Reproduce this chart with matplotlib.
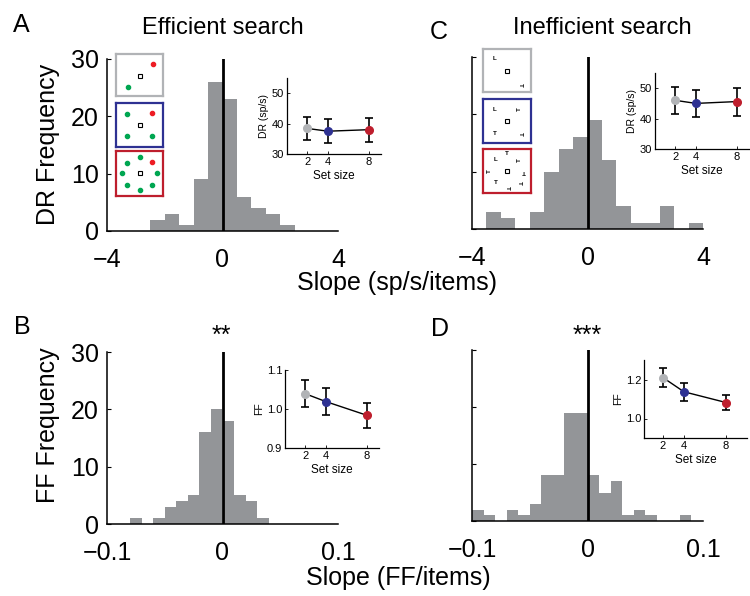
import matplotlib
matplotlib.use("Agg")
from matplotlib import pyplot as plt

plt.rcParams["font.family"] = ["Liberation Sans", "DejaVu Sans"]

# Histogram data (left bin edge, count)
dr_eff_edges = [-2.5, -2.0, -1.5, -1.0, -0.5, 0.0, 0.5, 1.0, 1.5, 2.0]
dr_eff_counts = [2, 3, 1, 9, 26, 23, 6, 4, 3, 1]

dr_ineff_edges = [-3.5, -3.0, -2.5, -2.0, -1.5, -1.0, -0.5, 0.0, 0.5, 1.0,
                  1.5, 2.0, 2.5, 3.0, 3.5]
dr_ineff_counts = [3, 2, 0, 3, 10, 14, 16, 19, 12, 4, 1, 1, 4, 0, 1]

ff_eff_edges = [-0.08, -0.07, -0.06, -0.05, -0.04, -0.03, -0.02, -0.01,
                0.0, 0.01, 0.02, 0.03]
ff_eff_counts = [1, 0, 1, 3, 4, 5, 16, 20, 18, 5, 4, 1]

ff_ineff_edges = [-0.10, -0.09, -0.08, -0.07, -0.06, -0.05, -0.04, -0.03,
                  -0.02, -0.01, 0.0, 0.01, 0.02, 0.03, 0.04, 0.05, 0.06,
                  0.07, 0.08]
ff_ineff_counts = [2, 1, 0, 2, 1, 3, 8, 8, 19, 19, 8, 5, 7, 1, 2, 1, 0, 0, 1]

# Inset data (mean +- error per set size)
set_sizes = [2, 4, 8]
dr_eff_mean = [38.4, 37.5, 38.0]
dr_eff_err = [3.8, 4.0, 4.0]
dr_ineff_mean = [46.0, 45.0, 45.6]
dr_ineff_err = [4.5, 4.5, 4.6]
ff_eff_mean = [1.039, 1.019, 0.984]
ff_eff_err = [0.035, 0.035, 0.032]
ff_ineff_mean = [1.21, 1.137, 1.082]
ff_ineff_err = [0.048, 0.045, 0.038]

# Search display icons (relative positions in the box)
eff_icons = [
    [(0.5, 0.52, "fix"), (0.78, 0.23, "red"), (0.25, 0.78, "green")],
    [(0.5, 0.5, "fix"), (0.77, 0.23, "red"), (0.23, 0.26, "green"),
     (0.23, 0.75, "green"), (0.76, 0.75, "green")],
    [(0.5, 0.5, "fix"), (0.5, 0.13, "green"), (0.77, 0.25, "red"),
     (0.23, 0.27, "green"), (0.12, 0.5, "green"), (0.88, 0.5, "green"),
     (0.23, 0.75, "green"), (0.76, 0.75, "green"), (0.5, 0.87, "green")],
]
ineff_icons = [
    [(0.5, 0.52, "fix", 0), (0.24, 0.23, "L", 0), (0.78, 0.83, "T", -90)],
    [(0.5, 0.5, "fix", 0), (0.24, 0.24, "L", 0), (0.76, 0.24, "T", 90),
     (0.24, 0.79, "T", 0), (0.78, 0.79, "T", -90)],
    [(0.5, 0.5, "fix", 0), (0.5, 0.1, "T", 0), (0.26, 0.24, "L", 0),
     (0.75, 0.26, "T", 90), (0.14, 0.5, "T", 90), (0.86, 0.5, "T", 180),
     (0.26, 0.76, "T", 0), (0.75, 0.76, "T", -90), (0.51, 0.89, "T", -90)],
]

BAR = "#939598"
SET_COLORS = ["#b1b3b6", "#2e3192", "#be1e2d"]
DOT_COLORS = {"red": "#ed1c24", "green": "#00a651"}

W, H = 750, 596
fig = plt.figure(figsize=(7.5, 5.96), dpi=100)


def rect(left, top, right, bottom):
    return [left / W, (H - bottom) / H, (right - left) / W, (bottom - top) / H]


def draw_hist(box, edges, counts, width, xlim, xlabels, ylabels):
    ax = fig.add_axes(rect(*box))
    ax.bar(edges, counts, width=width, align="edge", color=BAR, edgecolor="none")
    ax.axvline(0, color="black", lw=2.0, zorder=3)
    ax.set_xlim(xlim)
    ax.set_ylim(0, 30)
    ax.spines["top"].set_visible(False)
    ax.spines["right"].set_visible(False)
    for s in ["left", "bottom"]:
        ax.spines[s].set_linewidth(1.1)
    ax.set_xticks([xlim[0], 0, xlim[1]])
    ax.set_xticklabels(xlabels, fontsize=18)
    ax.set_yticks([0, 10, 20, 30])
    if ylabels:
        ax.set_yticklabels(["0", "10", "20", "30"], fontsize=18)
    else:
        ax.set_yticklabels([])
    ax.tick_params(axis="y", direction="in", length=3, width=0.8, pad=6)
    ax.tick_params(axis="x", direction="in", length=0, pad=12)
    return ax


def draw_inset(box, means, errs, ylim, yticks, ylabels, ylabel, xlim):
    ax = fig.add_axes(rect(*box))
    ax.errorbar(set_sizes, means, yerr=errs, color="black", lw=1.0,
                capsize=3.2, capthick=1.2, elinewidth=1.2, zorder=2)
    for x, m, c in zip(set_sizes, means, SET_COLORS):
        ax.plot(x, m, "o", color=c, markersize=5.5, zorder=3)
    ax.set_xlim(xlim)
    ax.set_ylim(ylim)
    ax.set_xticks(set_sizes)
    ax.set_xticklabels([str(s) for s in set_sizes], fontsize=8)
    ax.set_yticks(yticks)
    ax.set_yticklabels(ylabels, fontsize=8)
    ax.tick_params(direction="in", length=2, width=0.6, pad=2)
    ax.spines["top"].set_visible(False)
    ax.spines["right"].set_visible(False)
    for s in ["left", "bottom"]:
        ax.spines[s].set_linewidth(0.9)
    ax.set_xlabel("Set size", fontsize=8.5, labelpad=2)
    ax.set_ylabel(ylabel, fontsize=7.5, labelpad=2)
    return ax


def draw_icon(box, items, color, letters):
    ax = fig.add_axes(rect(*box))
    ax.set_xlim(0, 1)
    ax.set_ylim(1, 0)
    ax.set_xticks([])
    ax.set_yticks([])
    for s in ax.spines.values():
        s.set_color(color)
        s.set_linewidth(1.6)
    for item in items:
        x, y, kind = item[0], item[1], item[2]
        if kind == "fix":
            ax.plot(x, y, "s", markersize=2.6, markerfacecolor="white",
                    markeredgecolor="black", markeredgewidth=0.8)
        elif letters:
            ax.text(x, y, kind, rotation=item[3], fontsize=4.5,
                    fontweight="bold", ha="center", va="center")
        else:
            ax.plot(x, y, "o", color=DOT_COLORS[kind], markersize=3.0)


# Histograms
axA = draw_hist((107, 59, 338, 231), dr_eff_edges, dr_eff_counts, 0.5,
                (-4, 4), ["\u22124", "0", "4"], True)
axC = draw_hist((472, 57, 703, 229), dr_ineff_edges, dr_ineff_counts, 0.5,
                (-4, 4), ["\u22124", "0", "4"], False)
axB = draw_hist((107, 352, 338, 524), ff_eff_edges, ff_eff_counts, 0.01,
                (-0.1, 0.1), ["\u22120.1", "0", "0.1"], True)
axD = draw_hist((472, 350, 703, 521), ff_ineff_edges, ff_ineff_counts, 0.01,
                (-0.1, 0.1), ["\u22120.1", "0", "0.1"], False)

# Insets
draw_inset((287, 78, 381, 154), dr_eff_mean, dr_eff_err, (30, 55),
           [30, 40, 50], ["30", "40", "50"], "DR (sp/s)", (0, 9.2))
draw_inset((655, 73, 749, 149), dr_ineff_mean, dr_ineff_err, (30, 55),
           [30, 40, 50], ["30", "40", "50"], "DR (sp/s)", (0, 9.2))
draw_inset((285, 370, 379, 448), ff_eff_mean, ff_eff_err, (0.9, 1.1),
           [0.9, 1.0, 1.1], ["0.9", "1.0", "1.1"], "FF", (0, 9.2))
draw_inset((644, 360, 747, 438), ff_ineff_mean, ff_ineff_err, (0.9, 1.3),
           [1.0, 1.2], ["1.0", "1.2"], "FF", (0.2, 10))

# Icons
for (top, bottom), items, col in zip([(54, 96), (103, 147), (151, 196)],
                                     eff_icons, SET_COLORS):
    draw_icon((116, top, 163, bottom), items, col, False)
for (top, bottom), items, col in zip([(49, 92), (99, 143), (149, 193)],
                                     ineff_icons, SET_COLORS):
    draw_icon((483, top, 531, bottom), items, col, True)

# Labels
def ftext(x, y, s, **kw):
    fig.text(x / W, 1 - y / H, s, ha="center", va="center", **kw)


ftext(21, 25, "A", fontsize=18)
ftext(439, 32, "C", fontsize=18)
ftext(22, 327, "B", fontsize=18)
ftext(440, 329, "D", fontsize=18)
ftext(223, 28, "Efficient search", fontsize=17)
ftext(602, 28, "Inefficient search", fontsize=17)
ftext(48, 144, "DR Frequency", fontsize=18, rotation=90)
ftext(48, 425, "FF Frequency", fontsize=18, rotation=90)
ftext(397, 283, "Slope (sp/s/items)", fontsize=18)
ftext(398, 578, "Slope (FF/items)", fontsize=18)
ftext(221, 336, "**", fontsize=18)
ftext(587, 336, "***", fontsize=18)

fig.savefig("out.png", dpi=100)
